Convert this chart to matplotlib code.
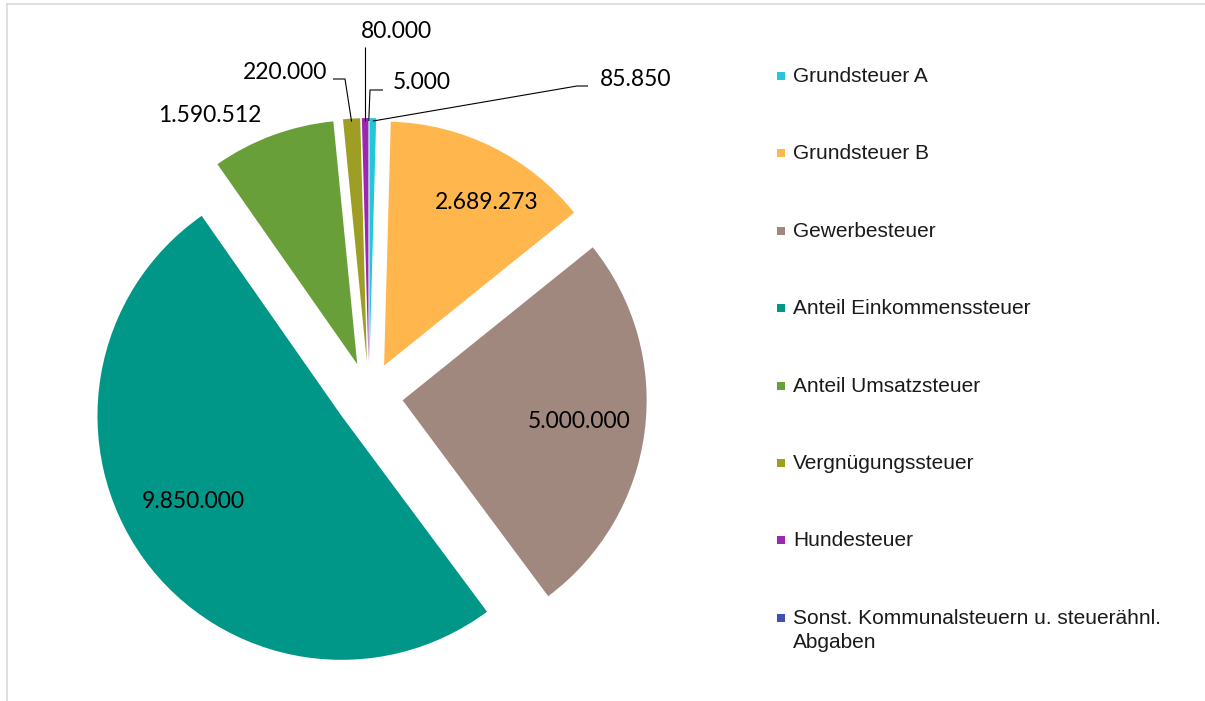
import matplotlib
matplotlib.use("Agg")
import matplotlib.pyplot as plt
import numpy as np
from matplotlib.patches import Rectangle
from matplotlib.lines import Line2D

# ---------------- data ----------------
categories = [
    "Grundsteuer A",
    "Grundsteuer B",
    "Gewerbesteuer",
    "Anteil Einkommenssteuer",
    "Anteil Umsatzsteuer",
    "Vergnügungssteuer",
    "Hundesteuer",
    "Sonst. Kommunalsteuern u. steuerähnl.\nAbgaben",
]
values = [85850, 2689273, 5000000, 9850000, 1590512, 220000, 80000, 5000]
colors = ["#26C6DA", "#FFB74D", "#A1887F", "#009688", "#689F38", "#9E9D24", "#9C27B0", "#3F51B5"]

value_labels = [f"{v:,}".replace(",", ".") for v in values]

# ---------------- layout (pixels) ----------------
W, H = 1205, 701
CX, CY, R = 369, 396, 244          # pie centre / radius in pixels
EXPLODE = 0.139

# label text positions (pixel x, pixel y, horizontal alignment)
label_layout = [
    (600, 80, "left"),
    (487, 202, "center"),
    (579, 421, "center"),
    (193, 501, "center"),
    (210, 115, "center"),
    (327, 72, "right"),
    (396, 32, "center"),
    (393, 82, "left"),
]
# leader line bend points (pixel) for the small slices, None = no leader
leader_layout = [
    [(577, 86), (588, 86)],
    None,
    None,
    None,
    None,
    [(345, 79), (333, 79)],
    [("tip", 47)],
    [(370, 90), (383, 90)],
]


def px2d(px, py):
    return (px - CX) / R, (CY - py) / R


fig = plt.figure(figsize=(W / 100, H / 100), dpi=100)
ax = fig.add_axes([0, 0, 1, 1])

wedges, _ = ax.pie(
    values,
    colors=colors,
    startangle=90,
    counterclock=False,
    explode=[EXPLODE] * len(values),
    radius=1,
    wedgeprops=dict(linewidth=0),
)
ax.set_aspect("auto")
ax.set_xlim(-CX / R, (W - CX) / R)
ax.set_ylim(-(H - CY) / R, CY / R)
ax.axis("off")

label_font = dict(family=["Lato", "DejaVu Sans"], fontsize=16.5, color="black")

for i, w in enumerate(wedges):
    tx, ty, ha = label_layout[i]
    x, y = px2d(tx, ty)
    ax.text(x, y, value_labels[i], ha=ha, va="center", **label_font)
    lead = leader_layout[i]
    if lead is not None:
        mid = np.deg2rad((w.theta1 + w.theta2) / 2)
        cx, cy = w.center
        tipx = cx + w.r * np.cos(mid)
        tipy = cy + w.r * np.sin(mid) - 0.012
        xs, ys = [tipx], [tipy]
        for p in lead:
            if p[0] == "tip":
                xs.append(tipx)
                ys.append(px2d(0, p[1])[1])
            else:
                dx, dy = px2d(*p)
                xs.append(dx)
                ys.append(dy)
        ax.plot(xs, ys, color="black", lw=0.8, solid_capstyle="butt")

# ---------------- legend (manual, Excel style) ----------------
leg_font = dict(family=["Liberation Sans", "DejaVu Sans"], fontsize=15, color="#1a1a1a")
row0, step = 76, 77.4
for i, (cat, col) in enumerate(zip(categories, colors)):
    yc = row0 + i * step
    fig.add_artist(Rectangle((777 / W, 1 - (yc + 4) / H), 8 / W, 8 / H,
                             transform=fig.transFigure, color=col, lw=0))
    fig.text(793 / W, 1 - (yc - 9) / H, cat, ha="left", va="top",
             linespacing=1.35, **leg_font)

# chart border (top and left)
fig.add_artist(Line2D([7 / W, 1], [1 - 4 / H] * 2, color="#D9D9D9", lw=1.2,
                      transform=fig.transFigure))
fig.add_artist(Line2D([7 / W] * 2, [0, 1 - 4 / H], color="#D9D9D9", lw=1.2,
                      transform=fig.transFigure))

fig.savefig("out.png", dpi=100)
